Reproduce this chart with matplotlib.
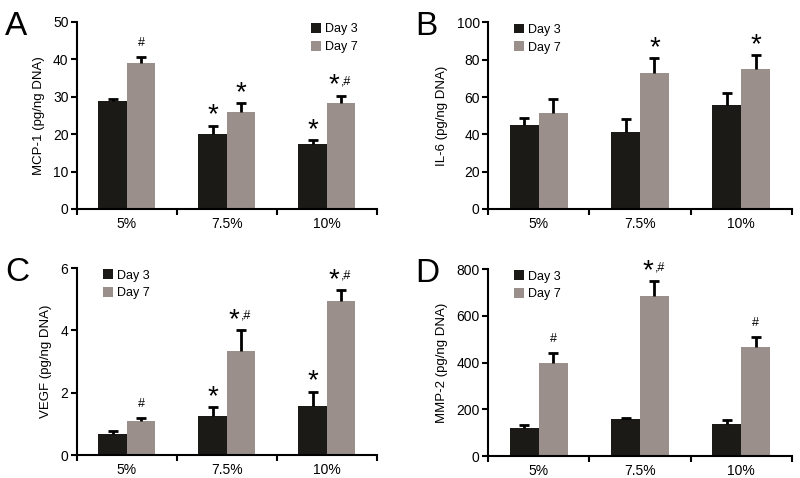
import matplotlib
matplotlib.use("Agg")
import matplotlib.pyplot as plt
import numpy as np

plt.rcParams['font.family'] = ['Liberation Sans', 'DejaVu Sans']

categories = ["5%", "7.5%", "10%"]
series_names = ["Day 3", "Day 7"]

mcp1_day3 = [28.9, 20.1, 17.3]
mcp1_day3_err = [0.5, 2.2, 1.1]
mcp1_day7 = [39.0, 25.8, 28.3]
mcp1_day7_err = [1.6, 2.5, 2.0]
mcp1_marks_day3 = ["", "*", "*"]
mcp1_marks_day7 = ["#", "*", "*,#"]

il6_day3 = [44.9, 41.5, 55.6]
il6_day3_err = [3.8, 6.6, 6.5]
il6_day7 = [51.2, 73.0, 74.8]
il6_day7_err = [7.7, 7.7, 7.5]
il6_marks_day3 = ["", "", ""]
il6_marks_day7 = ["", "*", "*"]

vegf_day3 = [0.67, 1.24, 1.58]
vegf_day3_err = [0.09, 0.29, 0.45]
vegf_day7 = [1.10, 3.34, 4.93]
vegf_day7_err = [0.09, 0.67, 0.37]
vegf_marks_day3 = ["", "*", "*"]
vegf_marks_day7 = ["#", "*,#", "*,#"]

mmp2_day3 = [121, 157, 139]
mmp2_day3_err = [13, 7, 16]
mmp2_day7 = [399, 683, 467]
mmp2_day7_err = [40, 64, 42]
mmp2_marks_day3 = ["", "", ""]
mmp2_marks_day7 = ["#", "*,#", "#"]

c_black = "#1b1a17"
c_gray = "#9a8f8a"

fig = plt.figure(figsize=(8, 4.78), dpi=100)

panels = [
    dict(letter="A", pos=[0.096, 0.563, 0.375, 0.391], d3=mcp1_day3, e3=mcp1_day3_err,
         d7=mcp1_day7, e7=mcp1_day7_err, m3=mcp1_marks_day3, m7=mcp1_marks_day7,
         ylim=50, yticks=[0, 10, 20, 30, 40, 50], ylabel="MCP-1 (pg/ng DNA)",
         leg=(0.765, 1.02)),
    dict(letter="B", pos=[0.610, 0.563, 0.380, 0.390], d3=il6_day3, e3=il6_day3_err,
         d7=il6_day7, e7=il6_day7_err, m3=il6_marks_day3, m7=il6_marks_day7,
         ylim=100, yticks=[0, 20, 40, 60, 80, 100], ylabel="IL-6 (pg/ng DNA)",
         leg=(0.07, 1.02)),
    dict(letter="C", pos=[0.096, 0.048, 0.375, 0.391], d3=vegf_day3, e3=vegf_day3_err,
         d7=vegf_day7, e7=vegf_day7_err, m3=vegf_marks_day3, m7=vegf_marks_day7,
         ylim=6, yticks=[0, 2, 4, 6], ylabel="VEGF (pg/ng DNA)",
         leg=(0.07, 1.02)),
    dict(letter="D", pos=[0.610, 0.046, 0.380, 0.391], d3=mmp2_day3, e3=mmp2_day3_err,
         d7=mmp2_day7, e7=mmp2_day7_err, m3=mmp2_marks_day3, m7=mmp2_marks_day7,
         ylim=800, yticks=[0, 200, 400, 600, 800], ylabel="MMP-2 (pg/ng DNA)",
         leg=(0.07, 1.02)),
]

w = 0.285
x = np.arange(len(categories))


def annotate(ax, xc, ytop, mark):
    if not mark:
        return
    if mark == "*":
        ax.annotate("*", (xc, ytop), xytext=(0, -2), textcoords="offset points",
                    ha="center", va="bottom", fontsize=20, color="black")
    elif mark == "#":
        ax.annotate("#", (xc, ytop), xytext=(0, 6), textcoords="offset points",
                    ha="center", va="bottom", fontsize=9, color="black")
    else:
        ax.annotate("*", (xc, ytop), xytext=(-5, -2), textcoords="offset points",
                    ha="center", va="bottom", fontsize=20, color="black")
        ax.annotate(",#", (xc, ytop), xytext=(0, 6), textcoords="offset points",
                    ha="left", va="bottom", fontsize=9, color="black")


def upper_errorbar(ax, xs, ys, errs):
    zeros = [0] * len(ys)
    _, caps, _ = ax.errorbar(xs, ys, yerr=[zeros, errs], fmt="none", ecolor="black",
                             elinewidth=2, capsize=3.5, capthick=2, zorder=3)
    caps[0].set_visible(False)


for p in panels:
    ax = fig.add_axes(p["pos"])
    b3 = ax.bar(x - w / 2, p["d3"], w, color=c_black, label=series_names[0], zorder=2)
    b7 = ax.bar(x + w / 2, p["d7"], w, color=c_gray, label=series_names[1], zorder=2)
    upper_errorbar(ax, x - w / 2, p["d3"], p["e3"])
    upper_errorbar(ax, x + w / 2, p["d7"], p["e7"])
    for i in range(len(categories)):
        annotate(ax, x[i] - w / 2, p["d3"][i] + p["e3"][i], p["m3"][i])
        annotate(ax, x[i] + w / 2, p["d7"][i] + p["e7"][i], p["m7"][i])

    ax.set_xlim(-0.5, len(categories) - 0.5)
    ax.set_ylim(0, p["ylim"])
    ax.set_yticks(p["yticks"])
    ax.set_xticks(x)
    ax.set_xticklabels(categories, fontsize=10)
    ax.set_xticks(np.arange(len(categories) + 1) - 0.5, minor=True)
    ax.tick_params(axis="x", which="major", length=0, pad=6)
    ax.tick_params(axis="x", which="minor", length=4, width=1.5, direction="out")
    ax.tick_params(axis="y", length=4, width=1.5, direction="out", labelsize=10, pad=2)
    for s in ["top", "right"]:
        ax.spines[s].set_visible(False)
    for s in ["left", "bottom"]:
        ax.spines[s].set_linewidth(1.5)
        ax.spines[s].set_color("black")
    ax.set_ylabel(p["ylabel"], fontsize=9.5, labelpad=6)
    ax.legend(handles=[b3, b7], loc="upper left", bbox_to_anchor=p["leg"], frameon=False,
              fontsize=9, handlelength=0.8, handleheight=0.8, handletextpad=0.3,
              labelspacing=0.45, borderaxespad=0)
    ax.text(-0.24, 1.06, p["letter"], transform=ax.transAxes, fontsize=24,
            ha="left", va="top")

fig.savefig("out.png", dpi=100)
